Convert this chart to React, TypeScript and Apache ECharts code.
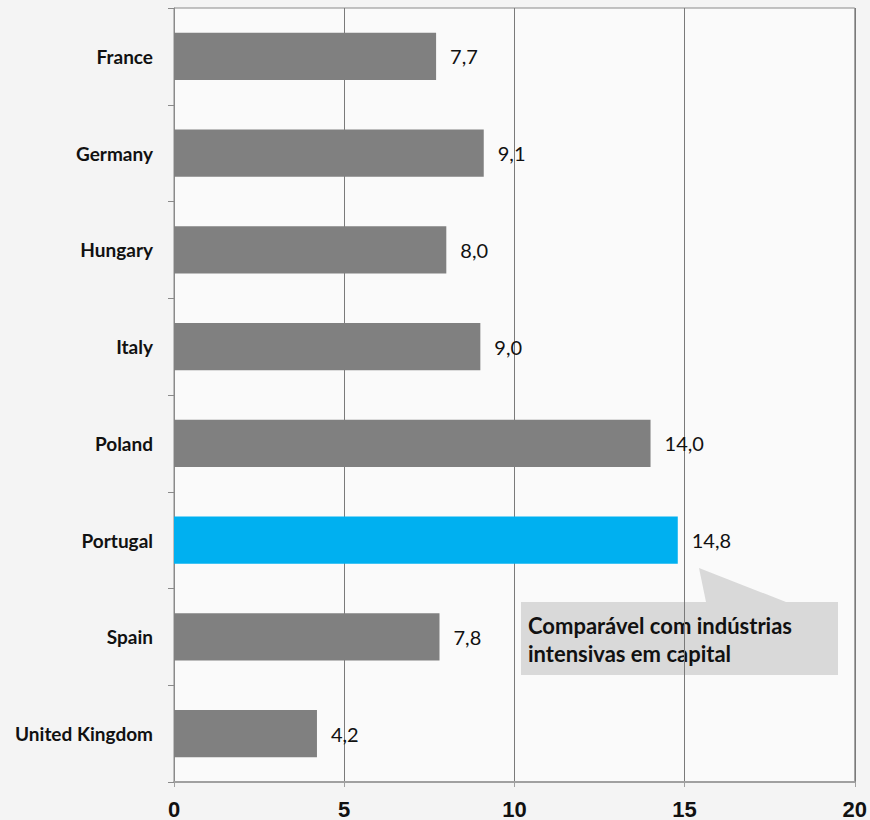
import React, { useEffect, useRef } from "react";
import * as echarts from "echarts";

const countries = ["France", "Germany", "Hungary", "Italy", "Poland", "Portugal", "Spain", "United Kingdom"];
const values = [7.7, 9.1, 8.0, 9.0, 14.0, 14.8, 7.8, 4.2];
const highlighted = ["Portugal"];
const xTicks = [0, 5, 10, 15, 20];
const calloutText = ["Comparável com indústrias", "intensivas em capital"];

const GRAY = "#808080";
const BLUE = "#00B0F0";

export default function App() {
  const ref = useRef<HTMLDivElement>(null);
  useEffect(() => {
    if (!ref.current) return;
    const chart = echarts.init(ref.current, undefined, { renderer: "svg" });
    chart.setOption({
      animation: false,
      backgroundColor: "#f4f4f4",
      grid: {
        left: 174,
        right: 15,
        top: 8,
        bottom: 38,
        show: true,
        backgroundColor: "#fafafa",
        borderColor: "#8a8a8a",
        borderWidth: 1,
      },
      xAxis: {
        type: "value",
        min: xTicks[0],
        max: xTicks[xTicks.length - 1],
        interval: 5,
        axisLine: { show: true, lineStyle: { color: "#a0a0a0", width: 2 } },
        axisTick: { show: true, length: 5, lineStyle: { color: "#a0a0a0" } },
        splitLine: { show: true, lineStyle: { color: "#7a7a7a", width: 1 } },
        axisLabel: {
          fontFamily: "'Liberation Sans Narrow', 'Liberation Sans', Arial",
          fontWeight: "bold",
          fontSize: 22,
          color: "#111",
          margin: 16,
        },
      },
      yAxis: {
        type: "category",
        data: countries,
        inverse: true,
        axisLine: { show: true, lineStyle: { color: "#8a8a8a", width: 1 } },
        axisTick: { show: true, length: 6, alignWithLabel: false, lineStyle: { color: "#8a8a8a" } },
        axisLabel: {
          fontFamily: "Lato, 'Noto Sans', sans-serif",
          fontWeight: "bold",
          fontSize: 19,
          color: "#111",
          margin: 21,
        },
      },
      series: [
        {
          type: "bar",
          barCategoryGap: "51%",
          data: values.map((v, i) => ({
            value: v,
            itemStyle: { color: highlighted.includes(countries[i]) ? BLUE : GRAY },
          })),
          label: {
            show: true,
            position: "right",
            distance: 14,
            fontFamily: "Lato, 'Noto Sans', sans-serif",
            fontSize: 20,
            color: "#111",
            formatter: (p: any) => Number(p.value).toFixed(1).replace(".", ","),
          },
        },
      ],
      graphic: [
        {
          type: "polygon",
          shape: { points: [[699, 568], [706, 602], [786, 602]] },
          style: { fill: "#d9d9d9" },
        },
        {
          type: "rect",
          shape: { x: 521, y: 602, width: 317, height: 73 },
          style: { fill: "#d9d9d9" },
        },
        {
          type: "text",
          x: 528,
          y: 611,
          style: {
            text: calloutText.join("\n"),
            fontFamily: "Lato, 'Noto Sans', sans-serif",
            fontWeight: "bold",
            fontSize: 22,
            lineHeight: 28,
            fill: "#111",
          },
        },
      ],
    });
    return () => chart.dispose();
  }, []);
  return (
    <div
      ref={ref}
      style={{ position: "absolute", left: 0, top: 0, width: 870, height: 820 }}
    />
  );
}
